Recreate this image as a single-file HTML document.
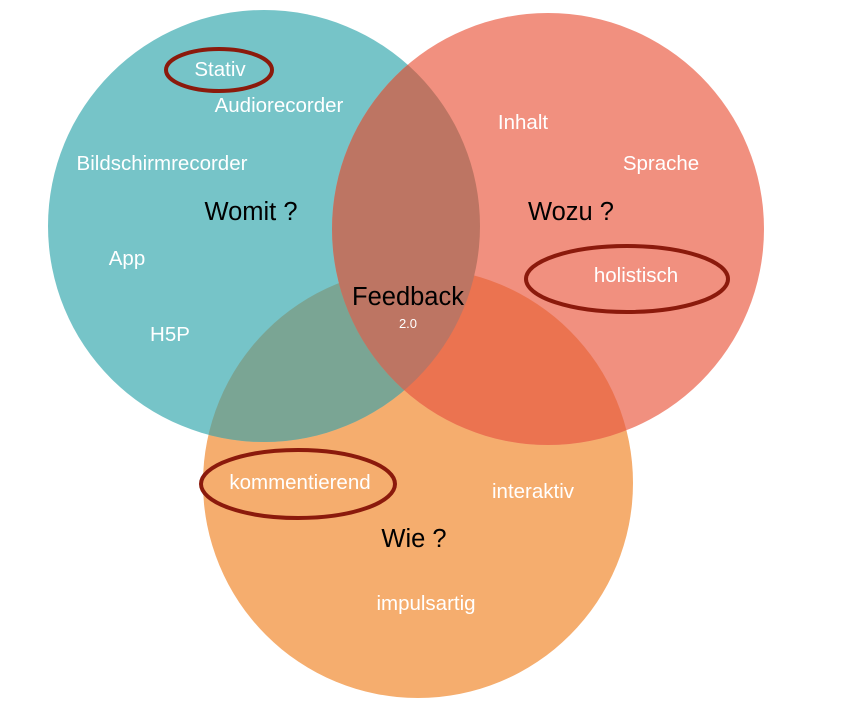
<!DOCTYPE html>
<html><head><style>body{margin:0;background:#fff}svg{display:block}text{font-family:"Liberation Sans",Arial,sans-serif}</style></head><body>
<svg width="841" height="715" viewBox="0 0 841 715">
<defs>
<clipPath id="cT"><circle cx="264" cy="226" r="216"/></clipPath>
<clipPath id="cR"><circle cx="548" cy="229" r="216"/></clipPath>
</defs>
<circle cx="418" cy="483" r="215" fill="#f5ad6e"/>
<circle cx="264" cy="226" r="216" fill="#76c4c8"/>
<circle cx="548" cy="229" r="216" fill="#f1907f"/>
<circle cx="418" cy="483" r="215" fill="#7aa594" clip-path="url(#cT)"/>
<circle cx="418" cy="483" r="215" fill="#eb7350" clip-path="url(#cR)"/>
<circle cx="548" cy="229" r="216" fill="#bd7563" clip-path="url(#cT)"/>
<g fill="#fff" font-size="20.5" text-anchor="middle">
<text x="220" y="76">Stativ</text>
<text x="279" y="112">Audiorecorder</text>
<text x="162" y="170">Bildschirmrecorder</text>
<text x="127" y="265">App</text>
<text x="170" y="341">H5P</text>
<text x="523" y="129">Inhalt</text>
<text x="661" y="170">Sprache</text>
<text x="636" y="282">holistisch</text>
<text x="300" y="489">kommentierend</text>
<text x="533" y="498">interaktiv</text>
<text x="426" y="610">impulsartig</text>
<text x="408" y="328" font-size="13">2.0</text>
</g>
<g fill="#000" font-size="25.5" text-anchor="middle">
<text x="251" y="220">Womit ?</text>
<text x="571" y="220">Wozu ?</text>
<text x="408" y="305">Feedback</text>
<text x="414" y="547">Wie ?</text>
</g>
<g fill="none" stroke="#8b1a0c" stroke-width="4">
<ellipse cx="219" cy="70" rx="53" ry="21"/>
<ellipse cx="627" cy="279" rx="101" ry="33"/>
<ellipse cx="298" cy="484" rx="97" ry="34"/>
</g>
</svg>
</body></html>
